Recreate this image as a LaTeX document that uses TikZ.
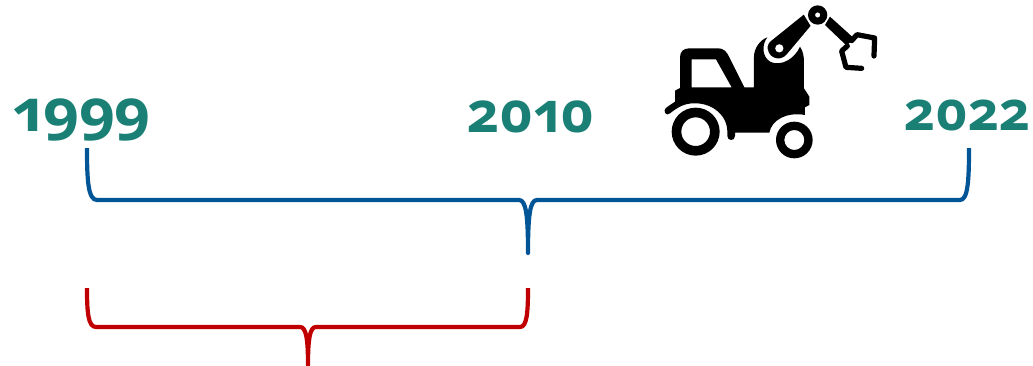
\documentclass[tikz,border=0pt]{standalone}
\usepackage{fontspec}
\newfontfamily\yearfont[Numbers=OldStyle]{Open Sans}
\usepackage{xcolor}
\usetikzlibrary{positioning}
\definecolor{pteal}{HTML}{1A8075}
\definecolor{pblued}{HTML}{005596}
\definecolor{pred}{HTML}{C00000}
\tikzset{
  % Year labels and the two brackets.
  year/.style   = {font=\fontsize{56}{56}\bfseries\yearfont, text=pteal, inner sep=0pt, anchor=base},
  span/.style   = {line width=4.2pt, line join=round},
  icon/.style   = {fill=black, draw=none},
  claw/.style   = {draw=black, line width=5.2pt, line cap=round, line join=round},
}
\begin{document}
\begin{tikzpicture}[x=1pt,y=-1pt]
\useasboundingbox (0,0) rectangle (1033,365);
\node[year, font=\fontsize{58}{58}\bfseries\yearfont, xscale=1.08, transform shape] (y1) at (81.5,131) {1999};
\node[year] (y2) at (531,132) {2010};
\node[year, font=\fontsize{54}{54}\bfseries\yearfont] (y3) at (967.5,130) {2022};
% blue span
\coordinate (bl) at (87,148);
\coordinate (br) at (969,148);
\coordinate (bm) at (528,253);
\draw[span, pblued] (bl) .. controls (87,180) and (88,200) .. (97,200) -- (519,200)
  .. controls (526,200) and (528,215) .. (bm)
  .. controls (528,215) and (530,200) .. (537,200) -- (960,200)
  .. controls (968,200) and (969,180) .. (br);
% red span
\coordinate (rl) at (87,288);
\coordinate (rr) at (528,288);
\coordinate (rm) at (308,365);
\draw[span, pred] (rl) .. controls (87,312) and (88,327) .. (96,327) -- (300,327)
  .. controls (306,327) and (308,338) .. (rm)
  .. controls (308,338) and (310,327) .. (316,327) -- (520,327)
  .. controls (527,327) and (528,312) .. (rr);
% truck icon
\begin{scope}[shift={(650,0)},x=0.3333pt,y=-0.3333pt]
\fill[icon, even odd rule] (75,305) -- (75,272) -- (90,264) -- (90,172)
  .. controls (90,155) and (100,145) .. (118,145) -- (205,145)
  .. controls (220,145) and (230,155) .. (236,168) -- (283,262) -- (312,262) -- (312,170)
  .. controls (312,145) and (330,120) .. (352,112)
  .. controls (335,135) and (335,170) .. (362,186)
  .. controls (395,200) and (435,175) .. (450,140)
  .. controls (460,155) and (462,170) .. (462,190) -- (462,265) -- (478,290) -- (478,315)
  -- (465,322) -- (465,345)
  .. controls (410,335) and (365,360) .. (358,398) -- (255,398) -- (255,408)
  .. controls (255,424) and (232,424) .. (232,408) -- (232,395)
  .. controls (232,345) and (185,308) .. (132,310)
  .. controls (105,310) and (85,320) .. (60,340)
  .. controls (50,350) and (35,335) .. (50,322) -- cycle
  (125,178) -- (198,178) -- (245,262) -- (125,262) -- cycle;
\fill[icon, even odd rule] (137,395) circle[radius=72] (137,395) circle[radius=43];
\fill[icon, even odd rule] (433,420) circle[radius=55] (433,420) circle[radius=30];
\filldraw[icon, draw=white, line width=1.5pt, even odd rule] (462,40) -- (485,78) -- (412,165)
  .. controls (395,185) and (365,180) .. (355,160)
  .. controls (347,145) and (350,130) .. (360,122) -- cycle
  (388,145) circle[radius=10];
\fill[icon, even odd rule] (503,45) circle[radius=29] (503,45) circle[radius=8];
\fill[icon] (540,50) -- (612,115) -- (590,137) -- (525,75) -- cycle;
\draw[claw] (605,122) -- (621,104) -- (674,114) -- (672,168);
\draw[claw] (592,138) -- (575,153) -- (588,202) -- (635,205);
\end{scope}
\end{tikzpicture}
\end{document}
